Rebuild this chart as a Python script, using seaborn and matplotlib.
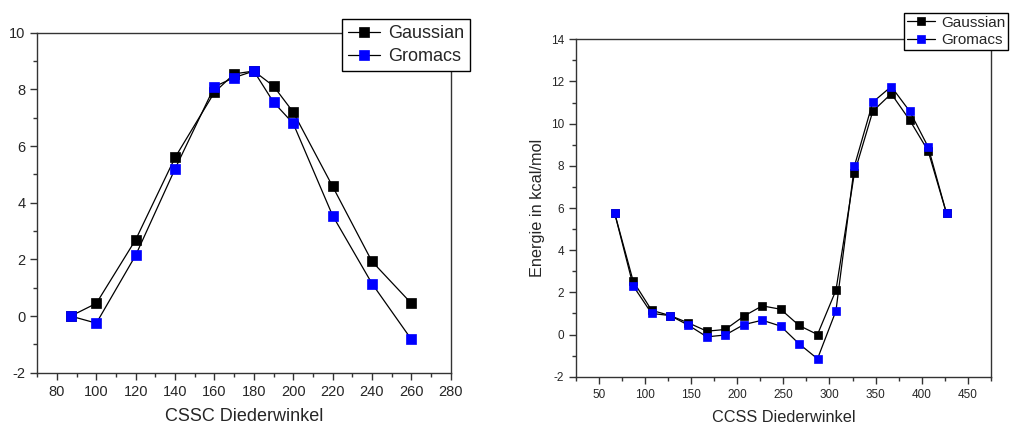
import matplotlib
matplotlib.use("Agg")
import matplotlib.pyplot as plt
from matplotlib.ticker import MultipleLocator
import seaborn as sns
import pandas as pd

# CSSC scan (left panel)
csscAngle = [87, 100, 120, 140, 160, 170, 180, 190, 200, 220, 240, 260]
csscGaussian = [0.0, 0.45, 2.7, 5.6, 7.9, 8.55, 8.65, 8.12, 7.2, 4.58, 1.93, 0.45]
csscGromacs = [0.0, -0.25, 2.15, 5.2, 8.1, 8.42, 8.65, 7.55, 6.8, 3.55, 1.15, -0.82]

# CCSS scan (right panel)
ccssAngle = [67, 87, 107, 127, 147, 167, 187, 207, 227, 247, 267, 287, 307, 327, 347, 367, 387, 407, 427]
ccssGaussian = [5.74, 2.53, 1.15, 0.9, 0.55, 0.16, 0.24, 0.87, 1.36, 1.2, 0.43, 0.0, 2.1, 7.65, 10.59, 11.42, 10.17, 8.71, 5.74]
ccssGromacs = [5.74, 2.31, 1.0, 0.9, 0.44, -0.11, -0.02, 0.47, 0.68, 0.4, -0.44, -1.15, 1.12, 7.98, 11.02, 11.76, 10.59, 8.9, 5.74]

seriesNames = ["Gaussian", "Gromacs"]
markerColors = {"Gaussian": "black", "Gromacs": "#0000ff"}

sns.set_style("ticks")
plt.rcParams['font.family'] = ['Liberation Sans', 'DejaVu Sans']
plt.rcParams['axes.unicode_minus'] = False
plt.rcParams['xtick.direction'] = 'out'
plt.rcParams['ytick.direction'] = 'out'


def makeFrame(angle, gaussian, gromacs):
    dfA = pd.DataFrame({"angle": angle, "energy": gaussian, "series": "Gaussian"})
    dfB = pd.DataFrame({"angle": angle, "energy": gromacs, "series": "Gromacs"})
    return pd.concat([dfA, dfB])


def drawPanel(ax, df, msize, tickSize, lw):
    for name in seriesNames:
        part = df[df["series"] == name]
        sns.lineplot(data=part, x="angle", y="energy", ax=ax, color="black", linewidth=lw,
                     marker="s", markersize=msize, markerfacecolor=markerColors[name],
                     markeredgecolor=markerColors[name], markeredgewidth=0.5,
                     label=name, sort=False)
    for s in ax.spines.values():
        s.set_color("#333333")
        s.set_linewidth(1.0)
    ax.tick_params(which="major", length=5, width=1, labelsize=tickSize, color="#333333")
    ax.tick_params(which="minor", length=3, width=1, color="#333333")


fig = plt.figure(figsize=(10.19, 4.26), dpi=100)

ax = fig.add_axes([0.0366, 0.125, 0.4057, 0.798])
dfLeft = makeFrame(csscAngle, csscGaussian, csscGromacs)
drawPanel(ax, dfLeft, 7, 10.5, 0.9)
ax.set_xlim(70, 280)
ax.set_ylim(-2, 10)
ax.xaxis.set_major_locator(MultipleLocator(20))
ax.xaxis.set_minor_locator(MultipleLocator(10))
ax.yaxis.set_major_locator(MultipleLocator(2))
ax.yaxis.set_minor_locator(MultipleLocator(1))
ax.set_xlabel("CSSC Diederwinkel", fontsize=13, labelpad=7)
ax.set_ylabel("")
leg = ax.legend(loc="upper left", bbox_to_anchor=(0.3353, 0.955), bbox_transform=fig.transFigure,
                fontsize=13, frameon=True, fancybox=False, framealpha=1, borderaxespad=0,
                handlelength=1.8, handletextpad=0.4, borderpad=0.35, labelspacing=0.3)
leg.get_frame().set_edgecolor("black")
leg.get_frame().set_linewidth(1.0)

ax1 = fig.add_axes([0.5653, 0.1157, 0.407, 0.792])
dfRight = makeFrame(ccssAngle, ccssGaussian, ccssGromacs)
drawPanel(ax1, dfRight, 5.5, 8.5, 0.9)
ax1.set_xlim(25, 475)
ax1.set_ylim(-2, 14)
ax1.xaxis.set_major_locator(MultipleLocator(50))
ax1.xaxis.set_minor_locator(MultipleLocator(25))
ax1.yaxis.set_major_locator(MultipleLocator(2))
ax1.yaxis.set_minor_locator(MultipleLocator(1))
ax1.set_xlabel("CCSS Diederwinkel", fontsize=11.7, labelpad=7)
ax1.set_ylabel("Energie in kcal/mol", fontsize=11.7)
leg1 = ax1.legend(loc="upper left", bbox_to_anchor=(0.8874, 0.970), bbox_transform=fig.transFigure,
                  fontsize=11, frameon=True, fancybox=False, framealpha=1, borderaxespad=0,
                  handlelength=1.8, handletextpad=0.4, borderpad=0.2, labelspacing=0.2)
leg1.get_frame().set_edgecolor("black")
leg1.get_frame().set_linewidth(1.0)

fig.savefig("out.png", dpi=100)
